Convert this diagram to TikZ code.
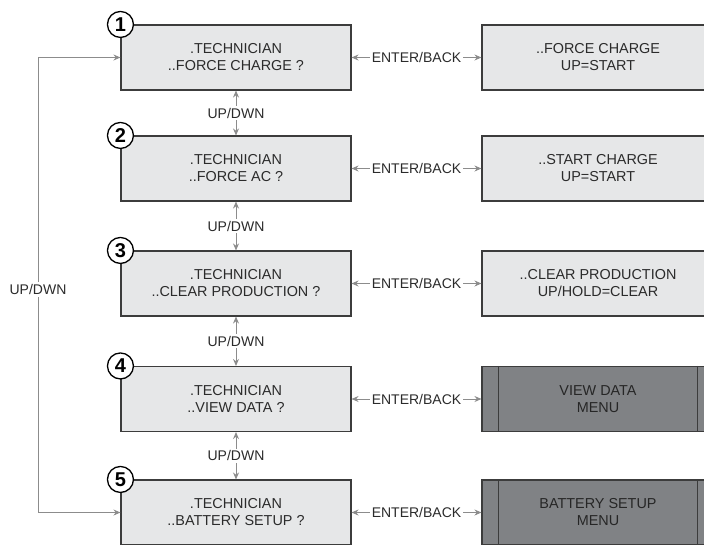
\documentclass[tikz,border=0pt]{standalone}
\usepackage{fontspec}
\setmainfont{Liberation Sans}
\usetikzlibrary{arrows.meta}
\definecolor{boxfill}{HTML}{E6E7E8}
\definecolor{darkfill}{HTML}{808285}
\definecolor{edgec}{HTML}{3C3C3C}
\definecolor{arrc}{HTML}{8C8C8C}
\definecolor{txtc}{HTML}{2B2B2B}
\begin{document}
\begin{tikzpicture}[x=1pt,y=-1pt,
 lbox/.style={draw=edgec, line width=1.1pt, fill=boxfill, minimum width=230pt, minimum height=65pt, align=center, font=\fontsize{14.4}{17}\selectfont, text=txtc, inner sep=0pt},
 rbox/.style={lbox, minimum width=232pt},
 dbox/.style={rbox, fill=darkfill, text=black!85},
 num/.style={circle, draw=black, line width=1.3pt, fill=white, minimum size=26pt, inner sep=0pt, font=\fontsize{20}{20}\selectfont\bfseries},
 conn/.style={draw=arrc, line width=0.9pt, {Stealth[length=7pt,width=6pt]}-{Stealth[length=7pt,width=6pt]}},
 lab/.style={fill=white, inner sep=2pt, font=\fontsize{14}{16}\selectfont, text=txtc}
]
\useasboundingbox (0,0) rectangle (704,544);
\clip (0,0) rectangle (704,544);

% left column
\node[lbox] (b1) at (236,57.5) {.TECHNICIAN\\..FORCE CHARGE ?};
\node[lbox] (b2) at (236,168.5) {.TECHNICIAN\\..FORCE AC ?};
\node[lbox] (b3) at (236,283.5) {.TECHNICIAN\\..CLEAR PRODUCTION ?};
\node[lbox] (b4) at (236,399) {.TECHNICIAN\\..VIEW DATA ?};
\node[lbox] (b5) at (236,512.5) {.TECHNICIAN\\..BATTERY SETUP ?};

% right column
\node[rbox] (r1) at (598,57.5) {..FORCE CHARGE\\UP=START};
\node[rbox] (r2) at (598,168.5) {..START CHARGE\\UP=START};
\node[rbox] (r3) at (598,283.5) {..CLEAR PRODUCTION\\UP/HOLD=CLEAR};
\node[dbox] (r4) at (598,399) {VIEW DATA\\MENU};
\node[dbox] (r5) at (598,512.5) {BATTERY SETUP\\MENU};

\foreach \d in {r4,r5}{
  \draw[edgec, line width=1.1pt] ([xshift=17pt]\d.north west) -- ([xshift=17pt]\d.south west);
  \draw[edgec, line width=1.1pt] ([xshift=-17pt]\d.north east) -- ([xshift=-17pt]\d.south east);
}

% number circles
\foreach \i in {1,...,5}{
  \node[num] (c\i) at (b\i.north west) {\i};
}

% enter/back connectors
\foreach \i in {1,...,5}{
  \draw[conn] (b\i.east) -- node[lab]{ENTER/BACK} (r\i.west);
}

% up/down connectors
\draw[conn] (b1.south) -- node[lab]{UP/DWN} (b2.north);
\draw[conn] (b2.south) -- node[lab]{UP/DWN} (b3.north);
\draw[conn] (b3.south) -- node[lab]{UP/DWN} (b4.north);
\draw[conn] (b4.south) -- node[lab]{UP/DWN} (b5.north);

% wrap-around loop
\coordinate (lt) at (38,57.5);
\coordinate (lb) at (38,512.5);
\draw[conn] (b1.west) -- (lt) -- node[lab, pos=0.51]{UP/DWN} (lb) -- (b5.west);
\end{tikzpicture}
\end{document}
